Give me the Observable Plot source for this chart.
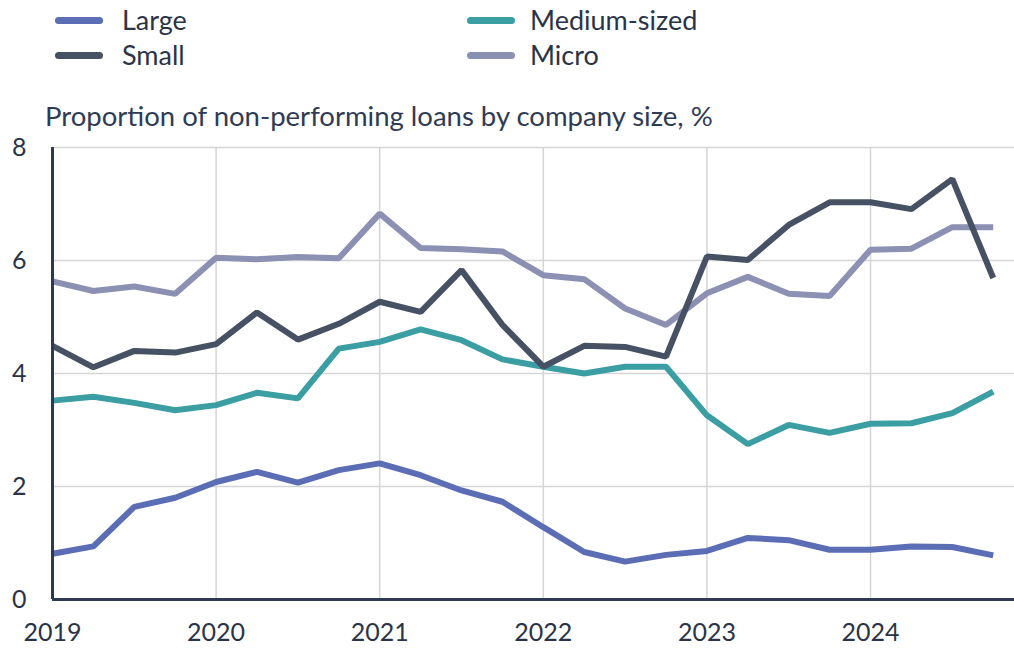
<!DOCTYPE html>
<html>
<head>
<meta charset="utf-8">
<script src="https://cdn.jsdelivr.net/npm/d3@7"></script>
<script src="https://cdn.jsdelivr.net/npm/@observablehq/plot@0.6"></script>
<style>
  html, body { margin: 0; padding: 0; background: #fff; }
  body { width: 1014px; height: 648px; position: relative; overflow: hidden; font-family: Lato, "Open Sans", sans-serif; color: #2b3447; }
  #legend { position: absolute; left: 0; top: 0; width: 1014px; height: 80px; }
  .item { position: absolute; display: flex; align-items: center; font-size: 27px; line-height: 30px; white-space: nowrap; }
  .sw { width: 48px; height: 7px; border-radius: 4px; }
  #title { position: absolute; left: 45px; top: 102px; font-size: 27.5px; line-height: 27px; color: #2f3b55; white-space: nowrap; }
  #chart { position: absolute; left: 0; top: 130px; }
</style>
</head>
<body>
<div id="legend"></div>
<div id="title">Proportion of non-performing loans by company size, %</div>
<div id="chart"></div>
<script>
const quarters = [
  2019, 2019.25, 2019.5, 2019.75,
  2020, 2020.25, 2020.5, 2020.75,
  2021, 2021.25, 2021.5, 2021.75,
  2022, 2022.25, 2022.5, 2022.75,
  2023, 2023.25, 2023.5, 2023.75,
  2024, 2024.25, 2024.5, 2024.75
];
const large = [0.81,0.94,1.64,1.80, 2.08,2.26,2.07,2.29, 2.41,2.20,1.93,1.73, 1.28,0.84,0.67,0.79, 0.86,1.09,1.05,0.88, 0.88,0.94,0.93,0.78];
const medium = [3.52,3.59,3.48,3.35, 3.44,3.66,3.56,4.44, 4.56,4.78,4.59,4.25, 4.12,4.00,4.12,4.12, 3.26,2.75,3.09,2.95, 3.11,3.12,3.30,3.68];
const small = [4.49,4.11,4.40,4.37, 4.52,5.08,4.60,4.88, 5.27,5.09,5.83,4.86, 4.12,4.49,4.47,4.30, 6.07,6.01,6.63,7.03, 7.03,6.91,7.44,5.69];
const micro = [5.63,5.46,5.54,5.41, 6.05,6.02,6.06,6.04, 6.83,6.22,6.20,6.16, 5.74,5.67,5.15,4.86, 5.42,5.71,5.41,5.37, 6.19,6.21,6.59,6.59];

const seriesNames = ["Large", "Medium-sized", "Small", "Micro"];
const seriesColors = ["#5a6db5", "#3a9ea2", "#465163", "#8c90b2"];
const yTicks = [0, 2, 4, 6, 8];
const xTicks = [2019, 2020, 2021, 2022, 2023, 2024];

const seriesValues = { "Large": large, "Medium-sized": medium, "Small": small, "Micro": micro };
const drawOrder = ["Large", "Medium-sized", "Micro", "Small"];
const rows = drawOrder.flatMap(name => quarters.map((q, i) => ({ series: name, x: q, y: seriesValues[name][i] })));

// Legend (two columns, row-wise order)
const legend = document.getElementById("legend");
const legendPos = [[55, 5, 19], [467, 5, 15], [55, 40, 19], [467, 40, 15]];
seriesNames.forEach((name, i) => {
  const d = document.createElement("div");
  d.className = "item";
  d.style.left = legendPos[i][0] + "px";
  d.style.top = legendPos[i][1] + "px";
  d.innerHTML = `<span class="sw" style="background:${seriesColors[i]};margin-right:${legendPos[i][2]}px"></span><span>${name}</span>`;
  legend.appendChild(d);
});

const chart = Plot.plot({
  width: 1014,
  height: 518,
  marginLeft: 52,
  marginRight: 0,
  marginTop: 17,
  marginBottom: 49,
  style: { fontFamily: "Lato, 'Open Sans', sans-serif", fontSize: "25px", color: "#2b3447", background: "transparent" },
  x: { domain: [2019, 2024.88] },
  y: { domain: [0, 8] },
  color: { domain: seriesNames, range: seriesColors },
  marks: [
    Plot.gridY(yTicks.filter(t => t > 0), { stroke: "#d5d5d8", strokeOpacity: 1, strokeWidth: 1.5 }),
    Plot.gridX(xTicks.filter(t => t > 2019), { stroke: "#d5d5d8", strokeOpacity: 1, strokeWidth: 1.5 }),
    Plot.axisX(xTicks, { tickSize: 0, tickPadding: 24, tickFormat: d => String(d), fontSize: 25, fill: "#2b3447", label: null }),
    Plot.axisY(yTicks, { tickSize: 0, tickPadding: 26, tickFormat: d => String(d), fontSize: 25, fill: "#2b3447", label: null }),
    Plot.line(rows, { x: "x", y: "y", z: "series", stroke: "series", strokeWidth: 6, strokeLinejoin: "miter", strokeLinecap: "butt" }),
    Plot.ruleX([2019], { stroke: "#2d3a52", strokeWidth: 3 }),
    Plot.ruleY([0], { stroke: "#2d3a52", strokeWidth: 3 })
  ]
});
document.getElementById("chart").appendChild(chart);
</script>
</body>
</html>
